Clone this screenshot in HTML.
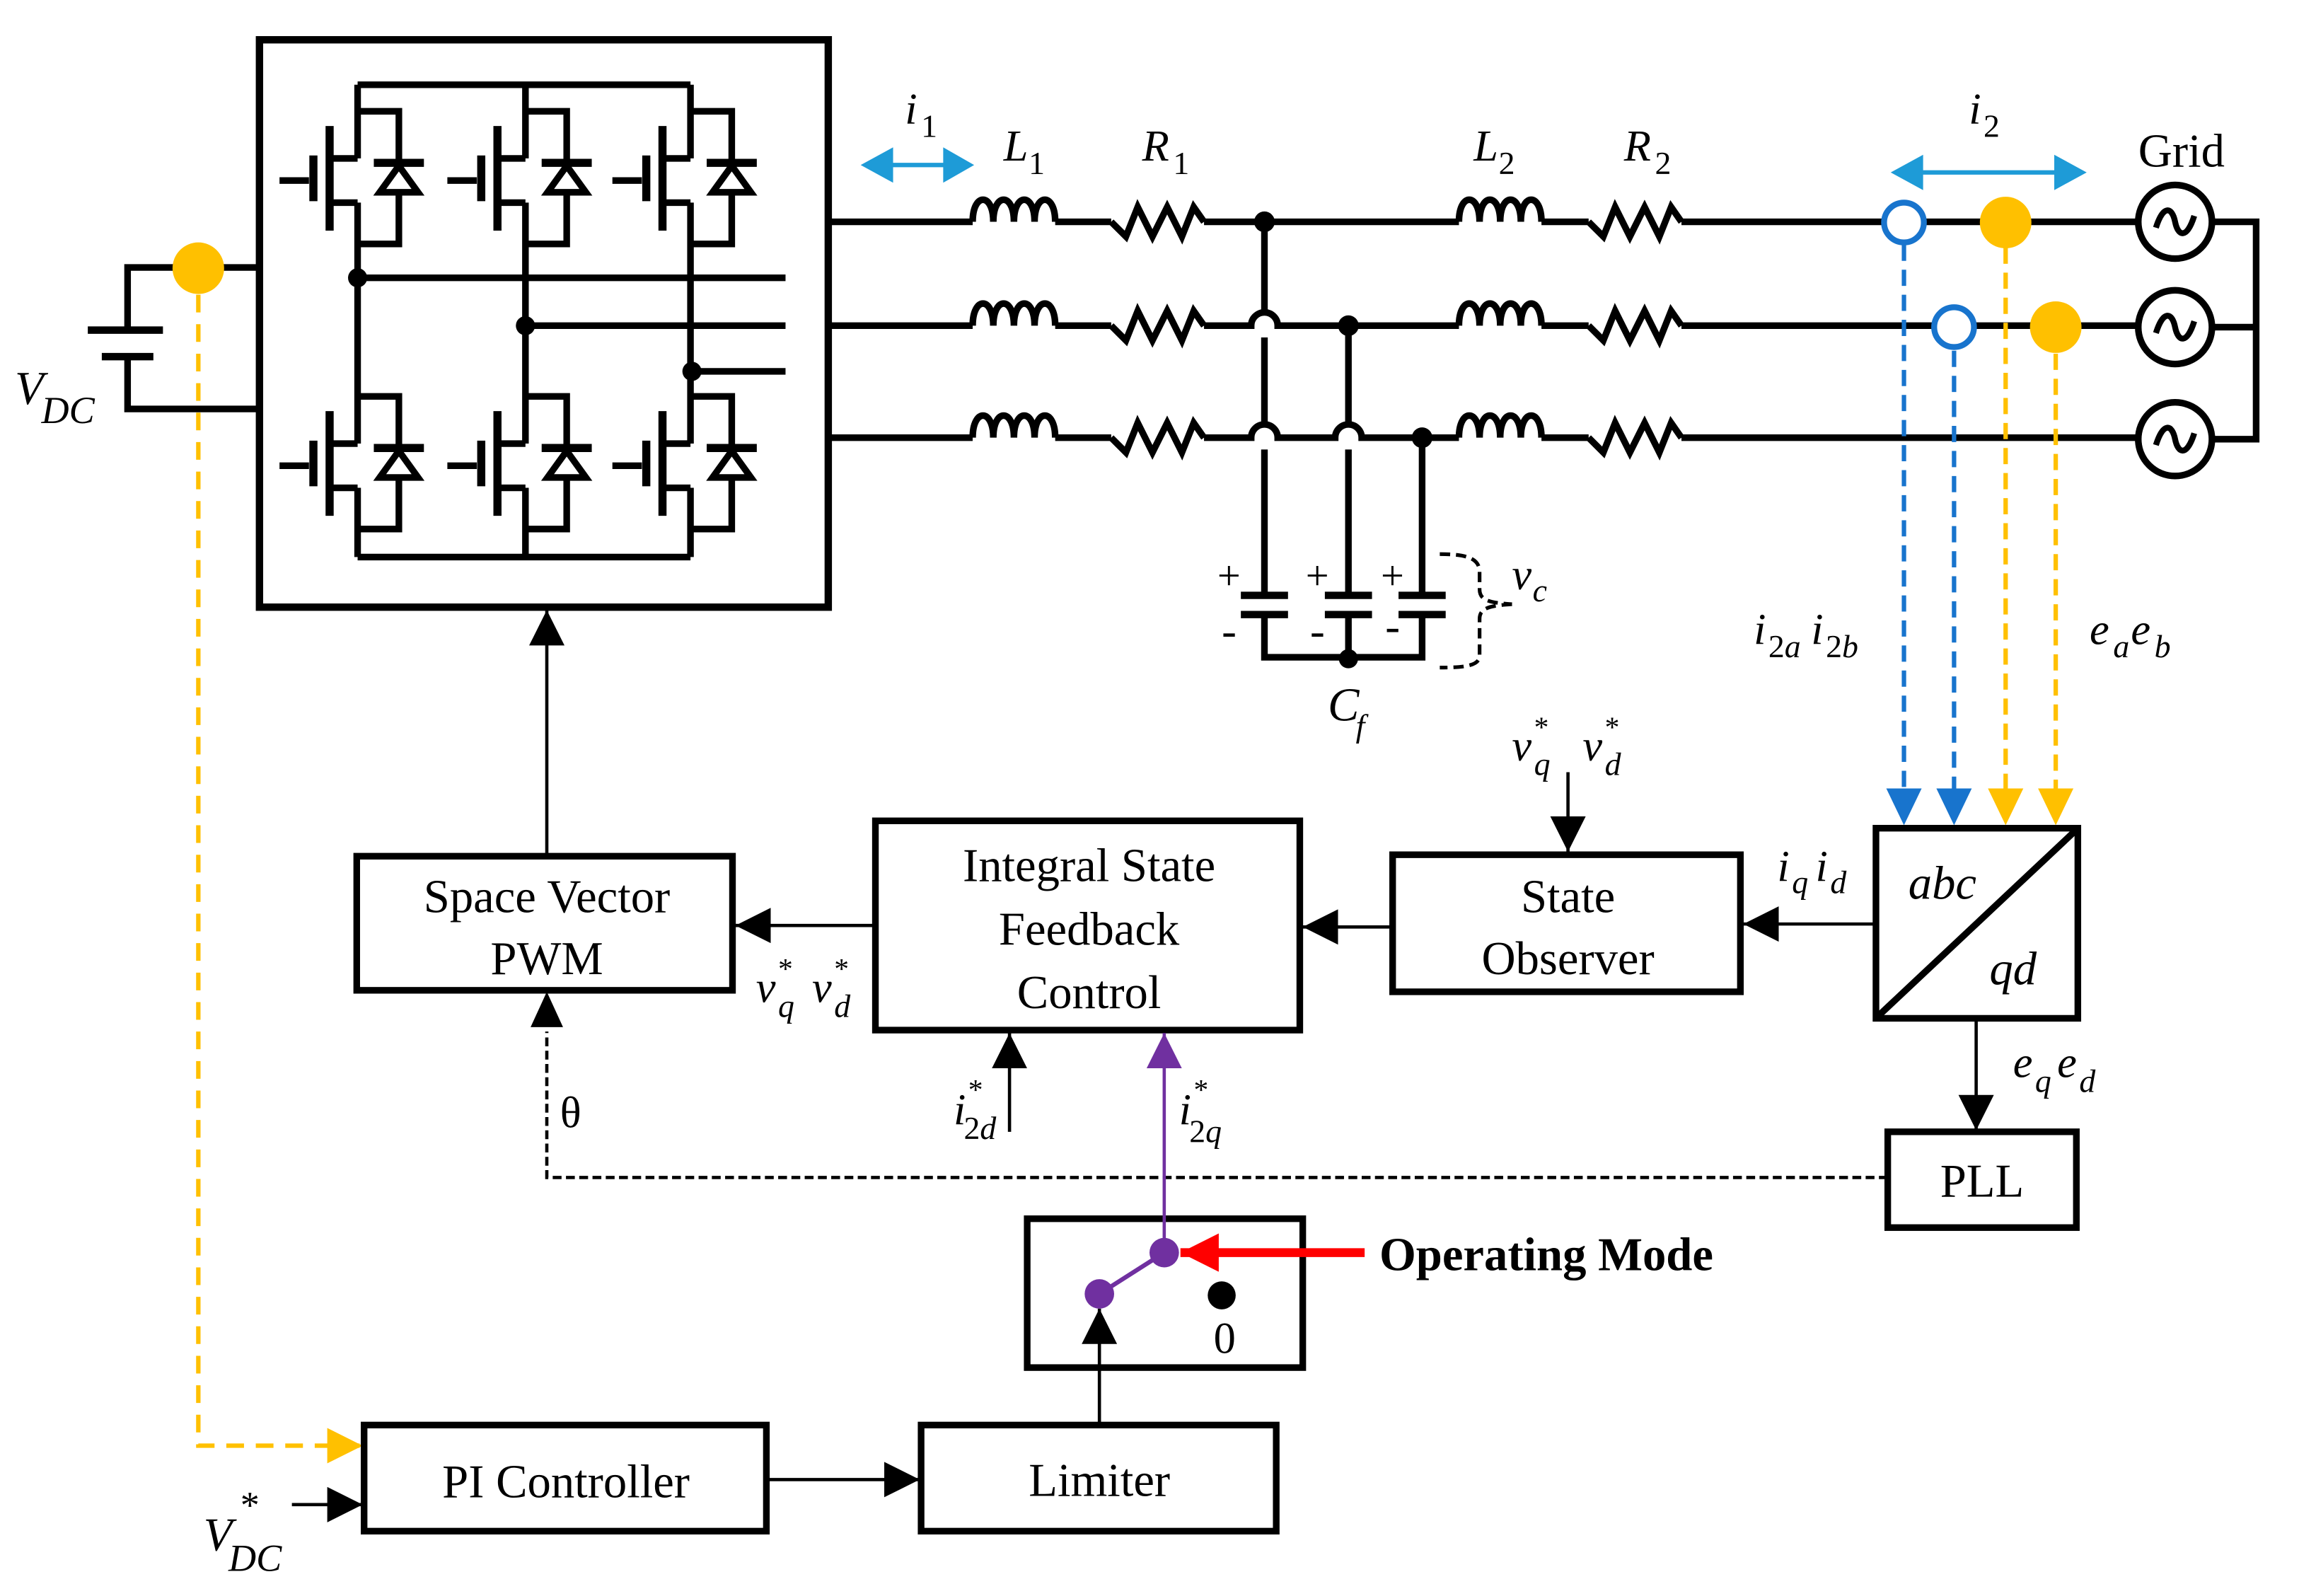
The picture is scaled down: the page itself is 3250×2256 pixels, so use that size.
<!DOCTYPE html>
<html><head><meta charset="utf-8"><style>
html,body{margin:0;padding:0;background:#fff}
svg{display:block}
text{font-family:"Liberation Serif",serif;fill:#000}
.it{font-style:italic}
</style></head><body>
<svg width="3250" height="2256" viewBox="0 0 1560 1083" xmlns="http://www.w3.org/2000/svg">
<defs>
<marker id="ab" viewBox="0 0 10 10" refX="10" refY="5" markerWidth="24" markerHeight="24" markerUnits="userSpaceOnUse" orient="auto"><path d="M0,0 L10,5 L0,10 z" fill="#000"/></marker>
<marker id="ap" viewBox="0 0 10 10" refX="10" refY="5" markerWidth="24" markerHeight="24" markerUnits="userSpaceOnUse" orient="auto"><path d="M0,0 L10,5 L0,10 z" fill="#7030A0"/></marker>
<marker id="ay" viewBox="0 0 10 10" refX="10" refY="5" markerWidth="24" markerHeight="24" markerUnits="userSpaceOnUse" orient="auto"><path d="M0,0 L10,5 L0,10 z" fill="#FFC000"/></marker>
<marker id="ar" viewBox="0 0 10 10" refX="10" refY="5" markerWidth="26" markerHeight="26" markerUnits="userSpaceOnUse" orient="auto"><path d="M0,0 L10,5 L0,10 z" fill="#FF0000"/></marker>
<g id="mos" stroke="#000" stroke-width="4.5" fill="none">
  <line x1="-53" y1="0" x2="-33" y2="0"/>
  <line x1="-30" y1="-17" x2="-30" y2="14" stroke-width="5.5"/>
  <line x1="-19" y1="-37" x2="-19" y2="34" stroke-width="5.5"/>
  <line x1="-19" y1="-15" x2="0" y2="-15"/>
  <line x1="-19" y1="15" x2="0" y2="15"/>
  <path d="M0,-47 H28 V43 H0"/>
  <line x1="11" y1="-12" x2="45" y2="-12" stroke-width="5.5"/>
  <path d="M28,-10 L15,8 H41 Z" fill="#fff"/>
</g>
<path id="ind" d="M0,0 C0,-20 14,-20 14,0 C14,-20 28,-20 28,0 C28,-20 42,-20 42,0 C42,-20 56,-20 56,0" fill="none" stroke="#000" stroke-width="4.5"/>
<path id="res" d="M0,0 L10,10 L18,-10 L28,10 L38,-10 L48,10 L56,-10 L63,0" fill="none" stroke="#000" stroke-width="4.5"/>
<g id="src"><circle r="25" fill="#fff" stroke="#000" stroke-width="4.5"/><path d="M-13,4 C-8,-12 -2,-10 0,0 C2,10 8,12 13,-4" fill="none" stroke="#000" stroke-width="4"/></g>
</defs>

<!-- Inverter box -->
<rect x="176" y="27" width="386" height="385" fill="none" stroke="#000" stroke-width="5"/>
<g stroke="#000" stroke-width="4.5" fill="none">
  <path d="M242.6,57.5 H468.5"/><path d="M242.6,378 H468.5"/>
  <path d="M242.6,57.5 V107.5 M242.6,137.5 V301 M242.6,331 V378"/>
  <path d="M356.5,57.5 V107.5 M356.5,137.5 V301 M356.5,331 V378"/>
  <path d="M468.5,57.5 V107.5 M468.5,137.5 V301 M468.5,331 V378"/>
  <path d="M242.6,188.5 H533"/><path d="M356.5,221 H533"/><path d="M469.5,252 H533"/>
</g>
<circle cx="242.6" cy="188.5" r="6.5"/><circle cx="356.5" cy="221" r="6.5"/><circle cx="469.5" cy="252" r="6.5"/>
<use href="#mos" x="242.6" y="122.5"/><use href="#mos" x="356.5" y="122.5"/><use href="#mos" x="468.5" y="122.5"/>
<use href="#mos" x="242.6" y="316"/><use href="#mos" x="356.5" y="316"/><use href="#mos" x="468.5" y="316"/>

<!-- DC side -->
<g stroke="#000" stroke-width="4.5" fill="none">
  <path d="M176,181.5 H86.5 V224"/>
  <path d="M59.5,224 H110.5" stroke-width="5"/>
  <path d="M69,242 H104" stroke-width="5"/>
  <path d="M86.5,242 V277.5 H176"/>
</g>
<path d="M134.5,200 V981 H244" fill="none" stroke="#FFC000" stroke-width="3" stroke-dasharray="12,8"/>
<path d="M246,981 L222,969 V993 Z" fill="#FFC000"/>
<circle cx="134.5" cy="182" r="17.5" fill="#FFC000"/>
<text class="it" x="10" y="274" font-size="32">V</text><text class="it" x="28" y="287" font-size="26">DC</text>

<!-- Power lines -->
<g stroke="#000" stroke-width="4.5" fill="none">
  <path d="M562,150.5 H660 M716,150.5 H754 M817,150.5 H990 M1046,150.5 H1078 M1141,150.5 H1451"/>
  <path d="M562,221 H660 M716,221 H754 M817,221 H849 A9,9 0 0 1 867,221 H990 M1046,221 H1078 M1141,221 H1451"/>
  <path d="M562,297 H660 M716,297 H754 M817,297 H849 A9,9 0 0 1 867,297 H906 A9,9 0 0 1 924,297 H990 M1046,297 H1078 M1141,297 H1451"/>
  <path d="M858,150.5 V212 M858,229 V288 M858,305 V404"/>
  <path d="M915,221 V288 M915,305 V404"/>
  <path d="M965,297 V404"/>
  <path d="M842,404 H874 M899,404 H931 M949,404 H981" stroke-width="5"/>
  <path d="M842,417 H874 M899,417 H931 M949,417 H981" stroke-width="5"/>
  <path d="M858,417 V446 H965 V417 M915,417 V446"/>
  <path d="M1501,150.5 H1531 V298 H1501 M1501,222 H1531"/>
</g>
<use href="#ind" x="660" y="150.5"/><use href="#ind" x="660" y="221"/><use href="#ind" x="660" y="297"/>
<use href="#res" x="754" y="150.5"/><use href="#res" x="754" y="221"/><use href="#res" x="754" y="297"/>
<use href="#ind" x="990" y="150.5"/><use href="#ind" x="990" y="221"/><use href="#ind" x="990" y="297"/>
<use href="#res" x="1078" y="150.5"/><use href="#res" x="1078" y="221"/><use href="#res" x="1078" y="297"/>
<circle cx="858" cy="150.5" r="7"/><circle cx="915" cy="221" r="7"/><circle cx="965" cy="297" r="7"/><circle cx="915" cy="447" r="6.5"/>
<use href="#src" x="1476" y="150.5"/><use href="#src" x="1476" y="222"/><use href="#src" x="1476" y="298"/>
<g font-size="28"><text x="826" y="400">+</text><text x="886" y="400">+</text><text x="937" y="400">+</text>
<text x="829" y="438" font-size="30">-</text><text x="889" y="438" font-size="30">-</text><text x="940" y="435" font-size="30">-</text></g>
<path d="M977,376 C993,376 1004,378 1004,388 V400 C1004,408 1012,409 1026,410 M1026,410 C1012,411 1004,412 1004,420 V445 C1004,452 993,453 977,453" fill="none" stroke="#000" stroke-width="2.5" stroke-dasharray="7,4"/>
<text class="it" x="1026" y="400" font-size="30">v</text><text class="it" x="1040" y="408" font-size="22">c</text>
<text class="it" x="901" y="489" font-size="32">C</text><text class="it" x="920" y="500" font-size="22">f</text>

<!-- top labels -->
<line x1="600" y1="112" x2="648" y2="112" stroke="#1E9BD7" stroke-width="3"/>
<path d="M584,112 L606,100 V124 Z M661,112 L640,100 V124 Z" fill="#1E9BD7"/>
<text class="it" x="614" y="84" font-size="30">i</text><text x="625" y="93" font-size="22">1</text>
<text class="it" x="681" y="109" font-size="30">L</text><text x="698" y="118" font-size="22">1</text>
<text class="it" x="775" y="109" font-size="30">R</text><text x="796" y="118" font-size="22">1</text>
<text class="it" x="1000" y="109" font-size="30">L</text><text x="1017" y="118" font-size="22">2</text>
<text class="it" x="1102" y="109" font-size="30">R</text><text x="1123" y="118" font-size="22">2</text>
<line x1="1300" y1="117" x2="1400" y2="117" stroke="#1E9BD7" stroke-width="3"/>
<path d="M1283,117 L1305,105 V129 Z M1416,117 L1394,105 V129 Z" fill="#1E9BD7"/>
<text class="it" x="1336" y="84" font-size="30">i</text><text x="1346" y="93" font-size="22">2</text>
<text x="1451" y="113" font-size="32">Grid</text>

<!-- measurement -->
<g stroke-width="3" fill="none" stroke-dasharray="11,6">
<path d="M1292,166 V538" stroke="#1874CD"/><path d="M1326,238 V538" stroke="#1874CD"/>
<path d="M1361,168 V538" stroke="#FFC000"/><path d="M1395,240 V538" stroke="#FFC000"/>
</g>
<path d="M1280,535 H1304 L1292,560 Z M1314,535 H1338 L1326,560 Z" fill="#1874CD"/>
<path d="M1349,535 H1373 L1361,560 Z M1383,535 H1407 L1395,560 Z" fill="#FFC000"/>
<circle cx="1292" cy="151" r="13.5" fill="#fff" stroke="#1874CD" stroke-width="4"/>
<circle cx="1361" cy="151" r="17.5" fill="#FFC000"/>
<circle cx="1326" cy="222" r="13.5" fill="#fff" stroke="#1874CD" stroke-width="4"/>
<circle cx="1395" cy="222" r="17.5" fill="#FFC000"/>
<text class="it" x="1190" y="437" font-size="30">i</text><text x="1200" y="446" font-size="22">2</text><text class="it" x="1211" y="446" font-size="22">a</text>
<text class="it" x="1229" y="437" font-size="30">i</text><text x="1239" y="446" font-size="22">2</text><text class="it" x="1250" y="446" font-size="22">b</text>
<text class="it" x="1418" y="437" font-size="30">e</text><text class="it" x="1434" y="446" font-size="22">a</text>
<text class="it" x="1446" y="437" font-size="30">e</text><text class="it" x="1462" y="446" font-size="22">b</text>

<!-- control blocks -->
<g fill="none" stroke="#000" stroke-width="4.5">
<rect x="1273" y="562" width="137" height="129"/>
<line x1="1275" y1="689" x2="1408" y2="564"/>
<rect x="1281" y="768" width="128" height="65"/>
<rect x="945" y="580" width="236" height="93"/>
<rect x="594" y="557" width="288" height="142"/>
<rect x="242" y="581" width="255" height="91"/>
<rect x="697" y="827" width="187" height="101"/>
<rect x="625" y="967" width="241" height="72"/>
<rect x="247" y="967" width="273" height="72"/>
</g>
<text class="it" x="1295" y="610" font-size="32">abc</text>
<text class="it" x="1350" y="668" font-size="32">qd</text>
<text x="1345" y="812" font-size="32" text-anchor="middle">PLL</text>
<g font-size="32" text-anchor="middle">
<text x="1064" y="619">State</text><text x="1064" y="661">Observer</text>
<text x="739" y="598">Integral State</text><text x="739" y="641">Feedback</text><text x="739" y="684">Control</text>
<text x="371" y="619">Space Vector</text><text x="371" y="661">PWM</text>
<text x="746" y="1015">Limiter</text>
<text x="384" y="1016">PI Controller</text>
<text x="831" y="918" font-size="30">0</text>
</g>
<text x="936" y="862" font-size="32" font-weight="bold">Operating Mode</text>

<!-- connectors -->
<g stroke="#000" stroke-width="2.2" fill="none">
<line x1="1273" y1="627" x2="1183" y2="627" marker-end="url(#ab)"/>
<line x1="1341" y1="691" x2="1341" y2="767" marker-end="url(#ab)"/>
<line x1="1064" y1="524" x2="1064" y2="578" marker-end="url(#ab)"/>
<line x1="945" y1="629" x2="884" y2="629" marker-end="url(#ab)"/>
<line x1="594" y1="628" x2="499" y2="628" marker-end="url(#ab)"/>
<line x1="371" y1="581" x2="371" y2="414" marker-end="url(#ab)"/>
<line x1="685" y1="768" x2="685" y2="701" marker-end="url(#ab)"/>
<line x1="746" y1="967" x2="746" y2="888" marker-end="url(#ab)"/>
<line x1="520" y1="1004" x2="624" y2="1004" marker-end="url(#ab)"/>
<line x1="198" y1="1021" x2="246" y2="1021" marker-end="url(#ab)"/>
<path d="M1281,799 H371 V700" stroke-dasharray="6,3"/>
</g>
<path d="M371,673 L360,697 H382 Z"/>
<line x1="790" y1="850" x2="790" y2="701" stroke="#7030A0" stroke-width="2.2" marker-end="url(#ap)"/>
<line x1="790" y1="850" x2="746" y2="878" stroke="#7030A0" stroke-width="3"/>
<circle cx="790" cy="850" r="10" fill="#7030A0"/><circle cx="746" cy="878" r="10" fill="#7030A0"/>
<circle cx="829" cy="879" r="9.5" fill="#000"/>
<line x1="926" y1="850" x2="801" y2="850" stroke="#FF0000" stroke-width="6" marker-end="url(#ar)"/>

<!-- control labels -->
<text class="it" x="1206" y="598" font-size="30">i</text><text class="it" x="1216" y="606" font-size="22">q</text>
<text class="it" x="1232" y="598" font-size="30">i</text><text class="it" x="1242" y="606" font-size="22">d</text>
<text class="it" x="1366" y="731" font-size="30">e</text><text class="it" x="1381" y="741" font-size="22">q</text>
<text class="it" x="1396" y="731" font-size="30">e</text><text class="it" x="1411" y="741" font-size="22">d</text>
<text class="it" x="1026" y="516" font-size="30">v</text><text x="1041" y="500" font-size="20">*</text><text class="it" x="1041" y="526" font-size="22">q</text>
<text class="it" x="1074" y="516" font-size="30">v</text><text x="1089" y="500" font-size="20">*</text><text class="it" x="1089" y="526" font-size="22">d</text>
<text class="it" x="513" y="680" font-size="30">v</text><text x="528" y="664" font-size="20">*</text><text class="it" x="528" y="690" font-size="22">q</text>
<text class="it" x="551" y="680" font-size="30">v</text><text x="566" y="664" font-size="20">*</text><text class="it" x="566" y="690" font-size="22">d</text>
<text class="it" x="647" y="763" font-size="30">i</text><text x="657" y="746" font-size="20">*</text><text x="654" y="773" font-size="22">2</text><text class="it" x="665" y="773" font-size="22">d</text>
<text class="it" x="800" y="763" font-size="30">i</text><text x="810" y="746" font-size="20">*</text><text x="807" y="775" font-size="22">2</text><text class="it" x="818" y="775" font-size="22">q</text>
<text x="380" y="765" font-size="30">θ</text>
<text x="163" y="1030" font-size="26">*</text>
<text class="it" x="138" y="1052" font-size="32">V</text><text class="it" x="155" y="1066" font-size="26">DC</text>
</svg>
</body></html>
